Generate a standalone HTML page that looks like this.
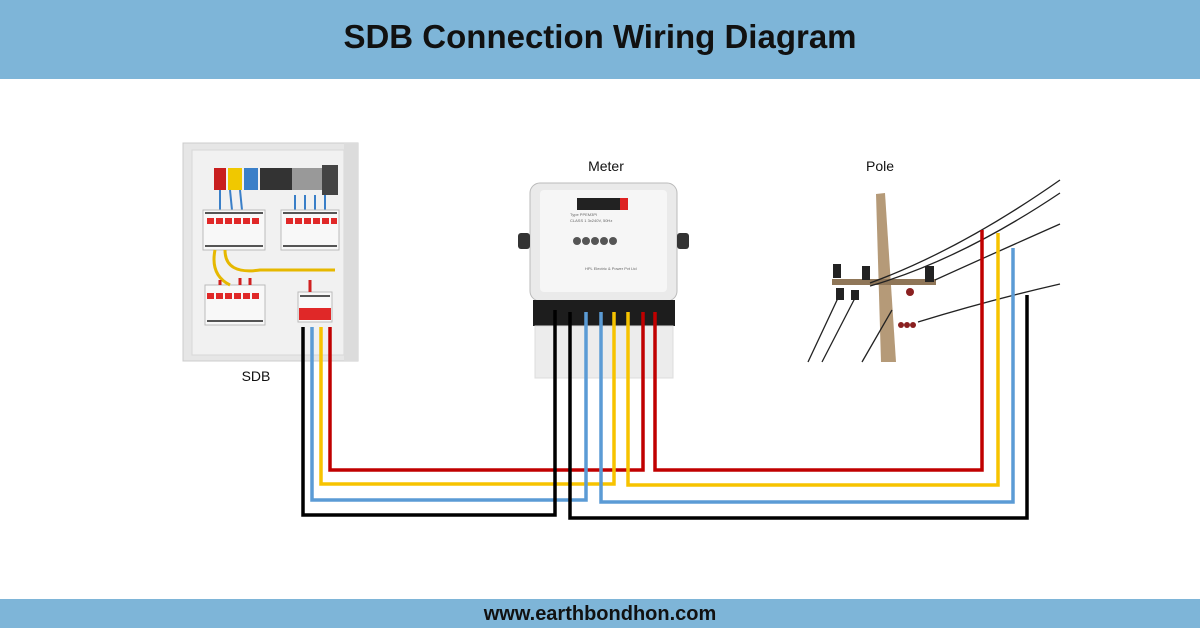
<!DOCTYPE html>
<html><head><meta charset="utf-8"><style>
html,body{margin:0;padding:0;background:#fff;}
body{width:1200px;height:628px;overflow:hidden;position:relative;font-family:"Liberation Sans",sans-serif;}
.hd{position:absolute;left:0;top:0;width:1200px;height:79px;background:#7eb5d8;text-align:center;}
.hd span{display:block;font-weight:bold;font-size:33px;line-height:74px;color:#111;}
.ft{position:absolute;left:0;top:599px;width:1200px;height:29px;background:#7eb5d8;text-align:center;font-weight:bold;font-size:20px;line-height:31px;color:#111;}
svg{position:absolute;left:0;top:0;}
</style></head><body>
<div class="hd"><span>SDB Connection Wiring Diagram</span></div>
<svg width="1200" height="628" viewBox="0 0 1200 628">
<!-- SDB panel -->
<rect x="183" y="143" width="175" height="218" fill="#e6e6e6" stroke="#ccc"/>
<rect x="192" y="150" width="152" height="205" fill="#f1f1f1" stroke="#d8d8d8"/>
<rect x="344" y="143" width="14" height="218" fill="#dcdcdc"/>
<rect x="214" y="168" width="12" height="22" fill="#c81e1e"/>
<rect x="228" y="168" width="14" height="22" fill="#f0c800"/>
<rect x="244" y="168" width="14" height="22" fill="#3a7fc8"/>
<rect x="260" y="168" width="32" height="22" fill="#333"/>
<rect x="292" y="168" width="30" height="22" fill="#999"/>
<rect x="322" y="165" width="16" height="30" fill="#444"/>
<path d="M220 190 L220 210 M230 190 L232 210 M240 190 L242 210 M295 195 L295 210 M305 195 L305 210 M315 195 L315 210 M325 195 L325 210" stroke="#3a7fc8" stroke-width="2"/>
<g fill="#f8f8f8" stroke="#bbb">
<rect x="203" y="210" width="62" height="40"/><rect x="281" y="210" width="58" height="40"/>
<rect x="205" y="285" width="60" height="40"/><rect x="298" y="292" width="34" height="30"/>
</g>
<g fill="#e02828">
<rect x="207" y="218" width="7" height="6"/><rect x="216" y="218" width="7" height="6"/><rect x="225" y="218" width="7" height="6"/><rect x="234" y="218" width="7" height="6"/><rect x="243" y="218" width="7" height="6"/><rect x="252" y="218" width="7" height="6"/>
<rect x="286" y="218" width="7" height="6"/><rect x="295" y="218" width="7" height="6"/><rect x="304" y="218" width="7" height="6"/><rect x="313" y="218" width="7" height="6"/><rect x="322" y="218" width="7" height="6"/><rect x="331" y="218" width="6" height="6"/>
<rect x="207" y="293" width="7" height="6"/><rect x="216" y="293" width="7" height="6"/><rect x="225" y="293" width="7" height="6"/><rect x="234" y="293" width="7" height="6"/><rect x="243" y="293" width="7" height="6"/><rect x="252" y="293" width="7" height="6"/>
<rect x="299" y="308" width="32" height="12"/>
</g>
<g fill="#555"><rect x="205" y="212" width="58" height="2"/><rect x="283" y="212" width="54" height="2"/><rect x="205" y="245" width="58" height="2"/><rect x="283" y="245" width="54" height="2"/><rect x="207" y="320" width="56" height="2"/><rect x="300" y="295" width="30" height="2"/></g>
<path d="M225 250 Q225 275 260 270 L335 270 M215 250 Q210 275 230 285" stroke="#e6b800" stroke-width="3" fill="none"/>
<path d="M220 280 L220 285 M240 278 L240 285 M250 278 L250 285 M310 280 L310 292" stroke="#d02020" stroke-width="3"/>
<text x="256" y="381" font-size="14" text-anchor="middle" fill="#111">SDB</text>
<!-- Meter -->
<rect x="530" y="183" width="147" height="118" rx="10" fill="#eaeaea" stroke="#bbb"/>
<rect x="540" y="190" width="127" height="102" rx="4" fill="#f6f6f6"/>
<rect x="577" y="198" width="50" height="12" fill="#222"/>
<rect x="620" y="198" width="8" height="12" fill="#d22"/>
<g fill="#555"><circle cx="577" cy="241" r="4"/><circle cx="586" cy="241" r="4"/><circle cx="595" cy="241" r="4"/><circle cx="604" cy="241" r="4"/><circle cx="613" cy="241" r="4"/></g>
<g font-size="4" fill="#666"><text x="570" y="222">CLASS 1   3x240V, 50Hz</text><text x="570" y="216">Type PPEM3PI</text><text x="585" y="270">HPL Electric &amp; Power Pvt Ltd</text></g>
<rect x="518" y="233" width="12" height="16" rx="3" fill="#333"/><rect x="677" y="233" width="12" height="16" rx="3" fill="#333"/>
<rect x="533" y="300" width="142" height="26" fill="#1d1d1d"/>
<rect x="535" y="326" width="138" height="52" fill="#ececec" stroke="#ddd"/>
<text x="606" y="171" font-size="14" text-anchor="middle" fill="#111">Meter</text>
<!-- Pole -->
<text x="880" y="171" font-size="14" text-anchor="middle" fill="#111">Pole</text>
<polygon points="876,194 885,193 896,362 881,362" fill="#b59a78"/>
<rect x="832" y="279" width="104" height="6" fill="#8f7658"/>
<g fill="#222"><rect x="833" y="264" width="8" height="14"/><rect x="862" y="266" width="8" height="14"/><rect x="925" y="266" width="9" height="16"/><rect x="836" y="288" width="8" height="12"/><rect x="851" y="290" width="8" height="10"/></g>
<g fill="#8a2020"><circle cx="910" cy="292" r="4"/><circle cx="901" cy="325" r="3"/><circle cx="907" cy="325" r="3"/><circle cx="913" cy="325" r="3"/></g>
<g stroke="#222" stroke-width="1.3" fill="none">
<path d="M870 283 Q960 250 1060 180"/><path d="M870 286 Q960 260 1060 193"/>
<path d="M935 280 Q990 255 1060 224"/><path d="M918 322 Q990 300 1060 284"/>
<path d="M838 298 L808 362"/><path d="M855 298 L822 362"/><path d="M892 310 L862 362"/>
</g>
<!-- Wires -->
<g fill="none" stroke-width="3.5" stroke-linejoin="miter">
<path d="M330 327 V470 H643 V312" stroke="#c00000"/>
<path d="M321 327 V484 H614 V312" stroke="#f7c300"/>
<path d="M312 327 V500 H586 V312" stroke="#5b9bd5"/>
<path d="M303 327 V515 H555 V310" stroke="#000"/>
<path d="M655 312 V470 H982 V230" stroke="#c00000"/>
<path d="M628 312 V485 H998 V233" stroke="#f7c300"/>
<path d="M601 312 V502 H1013 V248" stroke="#5b9bd5"/>
<path d="M570 312 V518 H1027 V295" stroke="#000"/>
</g>
</svg>
<div class="ft">www.earthbondhon.com</div>
</body></html>
